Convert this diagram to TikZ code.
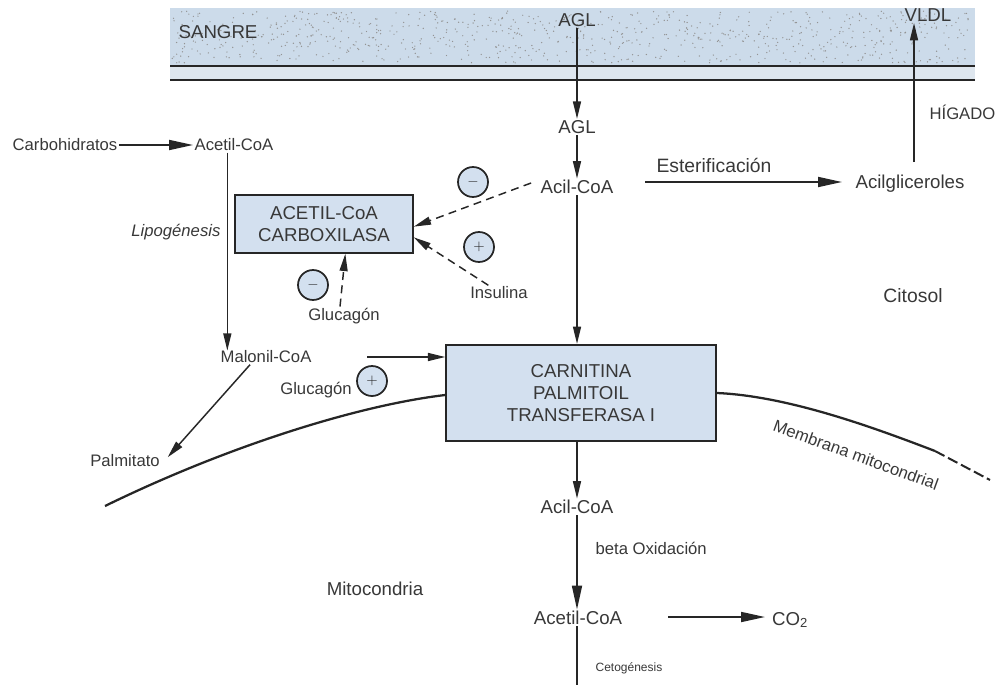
\documentclass[tikz,border=0pt]{standalone}
\usepackage{fontspec}
\setmainfont{Liberation Sans}
\usetikzlibrary{arrows.meta,calc}
\definecolor{ink}{HTML}{262626}
\definecolor{txt}{HTML}{383838}
\definecolor{bluefill}{HTML}{D3E0EF}
\definecolor{bandfill}{HTML}{CCDBEA}
\definecolor{gapfill}{HTML}{DEE6EE}
\begin{document}
\begin{tikzpicture}[x=0.75pt,y=-0.75pt,
  lbl/.style={text=txt,font=\fontsize{12.5}{15}\selectfont,inner sep=1pt},
  lblL/.style={lbl,font=\fontsize{14}{16}\selectfont},
  small/.style={text=txt,font=\fontsize{9}{11}\selectfont,inner sep=1pt},
  enzyme/.style={draw=ink,line width=1.6pt,fill=bluefill,align=center,text=txt,
    font=\fontsize{14}{16.5}\selectfont},
  reg/.style={circle,draw=ink,line width=1.3pt,fill=bluefill,minimum size=22.5pt,
    inner sep=0pt,text=ink,font=\fontsize{11}{11}\selectfont},
  flow/.style={draw=ink,line width=1.1pt,-{Triangle[length=13pt,width=6pt]}},
  bigflow/.style={draw=ink,line width=1.3pt,-{Triangle[length=18pt,width=7.5pt]}},
  effect/.style={flow,dash pattern=on 6pt off 4pt},
  wall/.style={draw=ink,line width=1.8pt}
]
\useasboundingbox (0,0) rectangle (998,685);

% blood compartment with a speckled band
\fill[bandfill] (170,8) rectangle (975,66);
\fill[gapfill] (170,66) rectangle (975,80);
\pgfmathsetseed{11}
\foreach \i in {1,...,800}
  \fill[gray!85] ({172+801*rnd},{11+52*rnd}) circle (0.7);
\draw[wall] (170,66) -- (975,66);
\draw[wall] (170,80) -- (975,80);
\node[lblL,anchor=west] (sangre) at (177,32) {SANGRE};

% nodes
\node[lblL] (aglB) at (577,20) {AGL};
\node[lblL] (vldl) at (928,15) {VLDL};
\node[lbl,anchor=west] (higado) at (928,112) {HÍGADO};
\node[lblL] (agl) at (577,127) {AGL};
\node[lblL] (acil) at (577,187) {Acil-CoA};
\node[lblL,font=\fontsize{14.5}{16}\selectfont] (ester) at (714,165) {Esterificación};
\node[lblL] (acilg) at (910,184) {Acilgliceroles};
\node[lblL,font=\fontsize{14.5}{16}\selectfont] (citosol) at (913,296) {Citosol};

\node[lbl] (carbo) at (65,145) {Carbohidratos};
\node[lbl] (acetil) at (234,145) {Acetil-CoA};
\node[lbl,font=\fontsize{12.5}{15}\selectfont\itshape,anchor=east] (lipo) at (222,232) {Lipogénesis};
\node[lbl] (malonil) at (266,357) {Malonil-CoA};
\node[lbl] (palm) at (125,461) {Palmitato};
\node[lbl] (gluc2) at (316,390) {Glucagón};

\node[enzyme,minimum width=133pt,minimum height=43pt] (acc) at (324,224)
  {ACETIL-CoA\\CARBOXILASA};
\node[reg] (m1) at (473,182) {$-$};
\node[reg] (p1) at (479,247) {$+$};
\node[lbl] (insul) at (499,293) {Insulina};
\node[reg] (m2) at (313,285) {$-$};
\node[lbl] (gluc1) at (344,316) {Glucagón};
\node[reg] (p2) at (372,381) {$+$};

\node[enzyme,minimum width=202pt,minimum height=72pt] (cpt) at (581,393)
  {CARNITINA\\PALMITOIL\\TRANSFERASA I};

\node[lblL] (acil2) at (577,507) {Acil-CoA};
\node[lbl,anchor=west] (beta) at (594,548) {beta Oxidación};
\node[lblL] (acetil2) at (578,618) {Acetil-CoA};
\node[lblL] (co2) at (790,620) {CO\textsubscript{2}};
\node[small,anchor=west] (ceto) at (594,668) {Cetogénesis};
\node[lblL] (mito) at (375,589) {Mitocondria};
\node[lbl,rotate=-20] (memb) at (856,455) {Membrana mitocondrial};

% mitochondrial membrane
\draw[ink,line width=1.7pt] (105,506) .. controls (230,445) and (360,405) .. (cpt.west|-0,395);
\draw[ink,line width=1.7pt] (cpt.east|-0,393) .. controls (790,396) and (880,430) .. (935,451);
\draw[ink,line width=1.5pt,dash pattern=on 8pt off 3pt] (935,451) -- (990,480);

% helper points
\coordinate (vldlfoot) at (914,162);
\coordinate (esterA) at (645,182);
\coordinate (esterB) at (842,182);
\coordinate (malA) at (367,357);
\coordinate (co2A) at (668,617);
\coordinate (cetoEnd) at (577,685);

% pathways
\draw[flow] (aglB.south) -- (agl.north);
\draw[flow] (agl.south) -- (acil.north);
\draw[flow] (acil.south) -- (acil.south|-cpt.north);
\draw[bigflow] (esterA) -- (esterB);
\draw[flow] (vldlfoot) -- (914,23);
\draw[bigflow] (carbo.east) -- (acetil.west);
\draw[flow] ([xshift=-5pt]acetil.south) -- ([xshift=-5pt,yshift=-1pt]acetil.south|-malonil.north);
\draw[flow] ([xshift=-12pt]malonil.south) -- ([xshift=32pt,yshift=-3pt]palm.north);
\draw[flow] (malA) -- (cpt.west|-malA);
\draw[flow] (acil2.north|-cpt.south) -- (acil2.north);
\draw[bigflow] (acil2.south) -- (acetil2.north-|acil2.south);
\draw[bigflow] (co2A) -- (765,617);
\draw[ink,line width=1.1pt] (acetil2.south-|acil2.south) -- (cetoEnd);

% regulation
\draw[effect] ([xshift=-6pt,yshift=3pt]acil.west) -- ([yshift=-2pt]acc.east);
\draw[effect] ([xshift=-8pt]insul.north) -- ([yshift=-10pt]acc.east);
\draw[effect] ([xshift=-3pt]gluc1.north) -- ([xshift=16pt]acc.south);
\end{tikzpicture}
\end{document}
